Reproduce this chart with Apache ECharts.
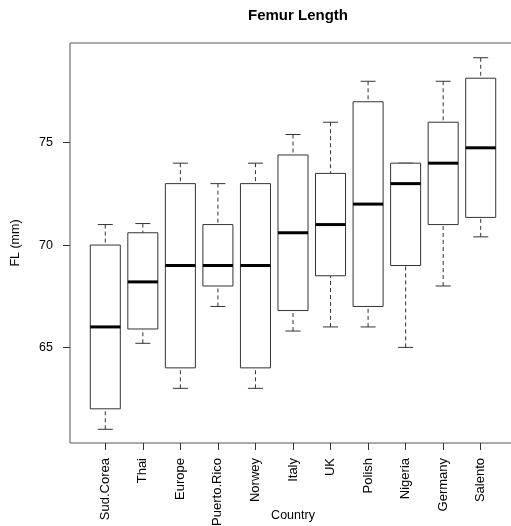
<!DOCTYPE html>
<html>
<head>
<meta charset="utf-8">
<script src="https://cdn.jsdelivr.net/npm/echarts@6/dist/echarts.min.js"></script>
<style>
  html, body { margin: 0; padding: 0; background: #ffffff; }
  #chart { width: 511px; height: 526px; }
</style>
</head>
<body>
<div id="chart"></div>
<script>
// Femur length (mm) by country: five-number summaries for each box
const countries = ['Sud.Corea', 'Thai', 'Europe', 'Puerto.Rico', 'Norwey', 'Italy', 'UK', 'Polish', 'Nigeria', 'Germany', 'Salento'];
const whiskerLow = [61, 65.2, 63, 67, 63, 65.8, 66, 66, 65, 68, 70.4];
const q1         = [62, 65.9, 64, 68, 64, 66.8, 68.5, 67, 69, 71, 71.35];
const median     = [66, 68.2, 69, 69, 69, 70.6, 71, 72, 73, 74, 74.75];
const q3         = [70, 70.6, 73, 71, 73, 74.4, 73.5, 77, 74, 76, 78.15];
const whiskerHigh = [71, 71.05, 74, 73, 74, 75.4, 76, 78, 74, 78, 79.15];
const yTicks = [65, 70, 75];

const boxData = countries.map((c, i) => [i + 1, whiskerLow[i], q1[i], median[i], q3[i], whiskerHigh[i]]);
const positions = countries.map((c, i) => i + 1);

const FONT = '"Liberation Sans", Arial, Helvetica, sans-serif';
const INK = '#333333';

function renderBox(params, api) {
  const x = api.value(0);
  const lo = api.coord([x, api.value(1)]);
  const b1 = api.coord([x, api.value(2)]);
  const md = api.coord([x, api.value(3)]);
  const b3 = api.coord([x, api.value(4)]);
  const hi = api.coord([x, api.value(5)]);
  const unit = api.size([1, 0])[0];
  const half = unit * 0.4;
  const cap = unit * 0.2;
  const cx = lo[0];
  const dashed = { stroke: INK, lineWidth: 1, lineDash: [4, 3] };
  const solid = { stroke: INK, lineWidth: 1 };
  return {
    type: 'group',
    children: [
      { type: 'line', shape: { x1: cx, y1: hi[1], x2: cx, y2: b3[1] }, style: dashed },
      { type: 'line', shape: { x1: cx, y1: lo[1], x2: cx, y2: b1[1] }, style: dashed },
      { type: 'line', shape: { x1: cx - cap, y1: hi[1], x2: cx + cap, y2: hi[1] }, style: solid },
      { type: 'line', shape: { x1: cx - cap, y1: lo[1], x2: cx + cap, y2: lo[1] }, style: solid },
      { type: 'rect', shape: { x: cx - half, y: b3[1], width: 2 * half, height: b1[1] - b3[1] },
        style: { fill: '#ffffff', stroke: INK, lineWidth: 1 } },
      { type: 'line', shape: { x1: cx - half, y1: md[1], x2: cx + half, y2: md[1] },
        style: { stroke: '#000000', lineWidth: 3 } }
    ]
  };
}

const chart = echarts.init(document.getElementById('chart'), null, { renderer: 'canvas' });
chart.setOption({
  animation: false,
  backgroundColor: '#ffffff',
  title: {
    text: 'Femur Length',
    left: 293,
    top: 3,
    textAlign: 'center',
    textStyle: { fontFamily: FONT, fontSize: 15, fontWeight: 'bold', color: '#000' }
  },
  grid: {
    left: 70, top: 43, width: 446, height: 400,
    outerBoundsMode: 'none',
    containLabel: false,
    show: true, borderColor: '#555555', borderWidth: 1, backgroundColor: 'transparent'
  },
  xAxis: {
    type: 'value',
    min: 0.06,
    max: 11.94,
    name: 'Country',
    nameLocation: 'middle',
    nameGap: 66,
    nameMoveOverlap: false,
    nameTextStyle: { fontFamily: FONT, fontSize: 12.5, color: '#000' },
    splitLine: { show: false },
    axisLine: { show: false },
    axisTick: { show: true, length: 7, customValues: positions, lineStyle: { color: INK } },
    axisLabel: {
      customValues: positions,
      rotate: 90,
      margin: 15,
      fontFamily: FONT,
      fontSize: 13,
      color: '#000',
      formatter: v => countries[Math.round(v) - 1]
    }
  },
  yAxis: {
    type: 'value',
    min: 60.33,
    max: 79.87,
    name: 'FL (mm)',
    nameLocation: 'middle',
    nameGap: 48,
    nameRotate: 90,
    nameMoveOverlap: false,
    nameTextStyle: { fontFamily: FONT, fontSize: 12.5, color: '#000' },
    splitLine: { show: false },
    axisLine: { show: false },
    axisTick: { show: true, length: 7, customValues: yTicks, lineStyle: { color: INK } },
    axisLabel: {
      customValues: yTicks,
      margin: 17,
      fontFamily: FONT,
      fontSize: 12.5,
      color: '#000'
    }
  },
  series: [{
    type: 'custom',
    renderItem: renderBox,
    encode: { x: 0, y: [1, 2, 3, 4, 5] },
    data: boxData,
    clip: false
  }]
});
</script>
</body>
</html>
